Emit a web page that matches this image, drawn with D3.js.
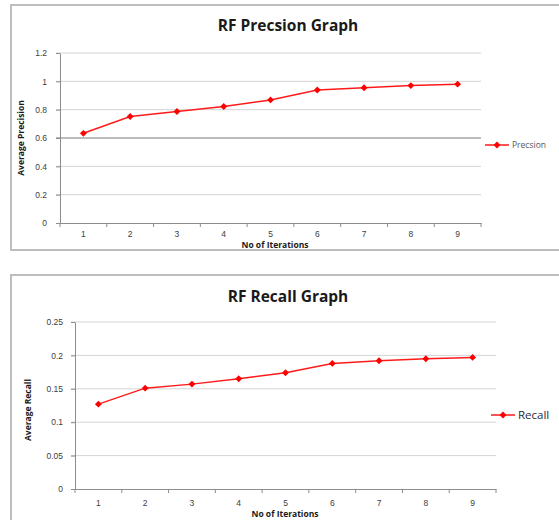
<!DOCTYPE html>
<html>
<head>
<meta charset="utf-8">
<script src="https://cdn.jsdelivr.net/npm/d3@7/dist/d3.min.js"></script>
<style>
  body { margin: 0; background: #fff; }
  svg { display: block; font-family: 'Open Sans', 'DejaVu Sans', sans-serif; }
</style>
</head>
<body>
<div id="chart"></div>
<script>
// data
var iterations = ['1', '2', '3', '4', '5', '6', '7', '8', '9'];
var precision = [0.633, 0.752, 0.787, 0.822, 0.869, 0.939, 0.955, 0.970, 0.980];
var recall = [0.127, 0.151, 0.157, 0.165, 0.174, 0.188, 0.192, 0.195, 0.197];
var precisionTicks = [0, 0.2, 0.4, 0.6, 0.8, 1, 1.2];
var recallTicks = [0, 0.05, 0.1, 0.15, 0.2, 0.25];

var svg = d3.select('#chart')
    .append('svg')
    .attr('width', 559)
    .attr('height', 520);

function drawChart(opt) {
    // outer frame of the chart object
    svg.append('rect')
        .attr('x', opt.frame[0])
        .attr('y', opt.frame[1])
        .attr('width', opt.frame[2])
        .attr('height', opt.frame[3])
        .attr('fill', '#fff')
        .attr('stroke', '#bdbdbd')
        .attr('stroke-width', 2);

    var xScale = d3.scaleBand()
        .domain(iterations)
        .range([opt.left, opt.right]);

    var yScale = d3.scaleLinear()
        .domain([0, opt.ticks[opt.ticks.length - 1]])
        .range([opt.bottom, opt.top]);

    var g = svg.append('g');

    //grid lines
    g.append('g')
        .selectAll('line')
        .data(opt.ticks.slice(1))
        .enter()
        .append('line')
        .attr('x1', opt.left - 4)
        .attr('x2', opt.right)
        .attr('y1', function(d) { return yScale(d); })
        .attr('y2', function(d) { return yScale(d); })
        .attr('stroke', function(d) { return d === opt.darkLine ? '#a6a6a6' : '#d4d4d4'; })
        .attr('stroke-width', function(d) { return d === opt.darkLine ? 1.6 : 1; });

    //y axis
    var yAxis = d3.axisLeft(yScale)
        .tickValues(opt.ticks)
        .tickSizeInner(4)
        .tickSizeOuter(0)
        .tickPadding(opt.yPad)
        .tickFormat(function(d) { return String(d); });

    var ya = g.append('g')
        .attr('transform', 'translate(' + opt.left + ',0)')
        .call(yAxis);
    ya.select('.domain').attr('stroke', '#8c8c8c');
    ya.selectAll('.tick line').attr('stroke', '#8c8c8c');
    ya.selectAll('.tick text')
        .attr('fill', '#404040')
        .style('font-size', '8.5px');

    //x axis
    var xAxis = d3.axisBottom(xScale)
        .tickSize(0)
        .tickPadding(opt.xPad);

    var xa = g.append('g')
        .attr('transform', 'translate(0,' + opt.bottom + ')')
        .call(xAxis);
    xa.select('.domain').attr('stroke', '#8c8c8c');
    xa.selectAll('.tick text')
        .attr('fill', '#404040')
        .style('font-size', '8.5px');

    // category boundary ticks
    var edges = iterations.map(function(d) { return xScale(d); }).concat([opt.right]);
    xa.append('g')
        .selectAll('line')
        .data(edges)
        .enter()
        .append('line')
        .attr('x1', function(d) { return d; })
        .attr('x2', function(d) { return d; })
        .attr('y1', 0)
        .attr('y2', 4)
        .attr('stroke', '#8c8c8c');

    var cx = function(d, i) { return xScale(iterations[i]) + xScale.bandwidth() / 2; };

    var lineFunction = d3.line()
        .x(cx)
        .y(function(d) { return yScale(d); });

    g.append('path')
        .attr('d', lineFunction(opt.values))
        .attr('stroke', '#ff1a1a')
        .attr('stroke-width', 1.5)
        .attr('fill', 'none');

    var diamond = d3.symbol().type(d3.symbolDiamond2).size(30);
    g.append('g')
        .selectAll('path')
        .data(opt.values)
        .enter()
        .append('path')
        .attr('d', diamond)
        .attr('transform', function(d, i) { return 'translate(' + cx(d, i) + ',' + yScale(d) + ')'; })
        .attr('fill', '#ff0000');

    //titles
    svg.append('text')
        .attr('x', opt.titleX)
        .attr('y', opt.titleY)
        .attr('text-anchor', 'middle')
        .style('font-size', '15.5px')
        .style('font-weight', 'bold')
        .attr('fill', '#1a1a1a')
        .text(opt.title);

    svg.append('text')
        .attr('x', opt.xTitle[0])
        .attr('y', opt.xTitle[1])
        .attr('text-anchor', 'middle')
        .style('font-size', '8.5px')
        .style('font-weight', 'bold')
        .attr('fill', '#1a1a1a')
        .text('No of Iterations');

    svg.append('text')
        .attr('transform', 'translate(' + opt.yTitle[0] + ',' + opt.yTitle[1] + ') rotate(-90)')
        .attr('text-anchor', 'middle')
        .style('font-size', '8.5px')
        .style('font-weight', 'bold')
        .attr('fill', '#1a1a1a')
        .text(opt.yLabel);

    //legend
    var lg = svg.append('g')
        .attr('transform', 'translate(' + opt.legend[0] + ',' + opt.legend[1] + ')');
    lg.append('line')
        .attr('x1', 0)
        .attr('x2', 24)
        .attr('stroke', '#ff1a1a')
        .attr('stroke-width', 1.5);
    lg.append('path')
        .attr('d', diamond)
        .attr('transform', 'translate(12,0)')
        .attr('fill', '#ff0000');
    lg.append('text')
        .attr('x', 27)
        .attr('dy', '0.35em')
        .style('font-size', opt.legendSize)
        .attr('fill', opt.legendColor)
        .text(opt.series);
}

drawChart({
    frame: [11, 5, 560, 245],
    left: 60, right: 481, top: 53, bottom: 223,
    ticks: precisionTicks,
    values: precision,
    darkLine: 0.6,
    yPad: 9, xPad: 8,
    title: 'RF Precsion Graph', titleX: 288, titleY: 31,
    xTitle: [275, 248], yTitle: [24, 138],
    yLabel: 'Average Precision',
    legend: [485, 145], series: 'Precsion', legendSize: '8.5px', legendColor: '#595959'
});

drawChart({
    frame: [11, 275, 560, 260],
    left: 75, right: 496, top: 322, bottom: 489,
    ticks: recallTicks,
    values: recall,
    darkLine: null,
    yPad: 8, xPad: 11,
    title: 'RF Recall Graph', titleX: 288, titleY: 302,
    xTitle: [285, 517], yTitle: [31, 410],
    yLabel: 'Average Recall',
    legend: [491, 415], series: 'Recall', legendSize: '11.5px', legendColor: '#1f2a3a'
});
</script>
</body>
</html>
